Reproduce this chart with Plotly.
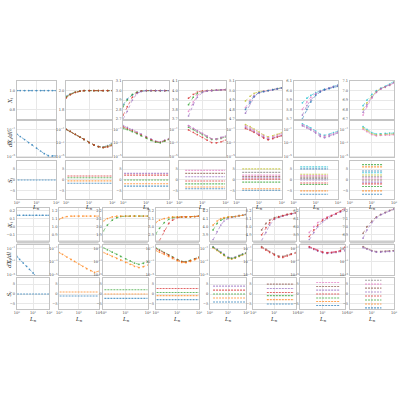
import plotly.graph_objects as go

W, H = 400, 400
COLORS = ['#1f77b4', '#ff7f0e', '#2ca02c', '#d62728', '#9467bd',
          '#8c564b', '#e377c2', '#7f7f7f', '#bcbd22', '#17becf']

# shared L grid for the X_i and dX_i/dl rows
L_GRID = [1, 1.5, 2.5, 4, 6, 10, 16, 25, 40, 63, 100]
N = None

# ---------------- top block (7 columns) ----------------
TOP_LEVEL = [1, 2, 3, 4, 5, 6, 7]

TOP_X_COLORS = [[0], [0, 1, 2, 3], [0, 2, 3, 4], [3, 2, 6, 4], [8, 6, 4, 0], [9, 6, 4, 0], [9, 8, 6, 4]]
TOP_X = [
    [[1.0, 1.0, 1.0, 1.0, 1.0, 1.0, 1.0, 1.0, 1.0, 1.0, 1.0]],
    [[1.94, 1.965, 1.985, 1.995, 2.0, 2.0, 2.0, 2.0, 2.0, 2.0, 2.0],
     [1.93, 1.96, 1.983, 1.995, 2.0, 2.0, 2.0, 2.0, 2.0, 2.0, 2.0],
     [1.93, 1.958, 1.982, 1.994, 2.0, 2.0, 2.0, 2.0, 2.0, 2.0, 2.0],
     [1.92, 1.955, 1.98, 1.994, 2.0, 2.0, 2.0, 2.0, 2.0, 2.0, 2.0]],
    [[2.85, 2.91, 2.955, 2.98, 2.993, 3.0, 3.0, 3.0, 3.0, 3.0, 3.0],
     [2.83, 2.9, 2.96, 2.985, 2.995, 3.0, 3.0, 3.0, 3.0, 3.0, 3.0],
     [2.74, 2.83, 2.93, 2.98, 2.995, 3.0, 3.0, 3.0, 3.0, 3.0, 3.0],
     [2.70, 2.78, 2.9, 2.97, 2.99, 3.0, 3.0, 3.0, 3.0, 3.0, 3.0]],
    [[N, N, 3.92, 3.96, 3.985, 3.997, 4.0, 4.002, 4.005, 4.008, 4.01],
     [N, N, 3.85, 3.93, 3.97, 3.99, 4.0, 4.002, 4.005, 4.008, 4.01],
     [N, N, 3.78, 3.88, 3.95, 3.985, 3.998, 4.002, 4.005, 4.008, 4.01],
     [N, N, 3.73, 3.85, 3.93, 3.98, 3.995, 4.0, 4.005, 4.008, 4.01]],
    [[N, N, 4.89, 4.94, 4.97, 4.99, 4.995, 5.0, 5.01, 5.02, 5.03],
     [N, N, 4.82, 4.9, 4.95, 4.98, 4.995, 5.0, 5.01, 5.02, 5.03],
     [N, N, 4.76, 4.86, 4.93, 4.975, 4.99, 5.0, 5.008, 5.017, 5.025],
     [N, N, 4.8, 4.88, 4.94, 4.98, 4.99, 5.0, 5.01, 5.02, 5.03]],
    [[N, N, 5.87, 5.92, 5.95, 5.98, 6.0, 6.015, 6.03, 6.045, 6.06],
     [N, N, 5.8, 5.88, 5.93, 5.97, 5.995, 6.012, 6.028, 6.042, 6.055],
     [N, N, 5.74, 5.84, 5.9, 5.96, 5.99, 6.01, 6.025, 6.04, 6.05],
     [N, N, 5.7, 5.8, 5.88, 5.95, 5.985, 6.008, 6.02, 6.035, 6.045]],
    [[N, N, N, 6.84, 6.9, 6.96, 7.0, 7.025, 7.045, 7.07, 7.1],
     [N, N, N, 6.8, 6.87, 6.94, 6.99, 7.02, 7.04, 7.06, 7.09],
     [N, N, N, 6.74, 6.83, 6.92, 6.98, 7.015, 7.035, 7.055, 7.08],
     [N, N, N, 6.77, 6.85, 6.93, 6.985, 7.02, 7.04, 7.06, 7.085]],
]

TOP_DX_COLORS = [[0], [0, 1, 2, 3], [4, 3, 2], [4, 2, 6, 3], [8, 6, 4, 3], [9, 6, 4], [9, 8, 6]]
TOP_DX = [
    [[2.0e-2, 8.5e-3, 3.0e-3, 1.1e-3, 4.9e-4, 1.7e-4, 6.3e-5, 2.5e-5, 1.3e-5, 1.2e-5, 1.2e-5]],
    [[1.0e-1, 5.0e-2, 1.8e-2, 7.1e-3, 3.2e-3, 1.1e-3, 5.0e-4, 2.8e-4, 2.5e-4, 4.0e-4, 8.9e-4],
     [1.0e-1, 5.0e-2, 1.8e-2, 7.1e-3, 3.2e-3, 1.1e-3, 5.0e-4, 2.8e-4, 2.2e-4, 3.2e-4, 6.3e-4],
     [1.0e-1, 5.0e-2, 1.8e-2, 7.1e-3, 3.2e-3, 1.1e-3, 5.0e-4, 2.8e-4, 2.0e-4, 2.8e-4, 5.0e-4],
     [1.0e-1, 5.0e-2, 1.8e-2, 7.1e-3, 3.2e-3, 1.1e-3, 5.0e-4, 2.8e-4, 2.0e-4, 2.5e-4, 4.0e-4]],
    [[3.5e-1, 2.0e-1, 8.9e-2, 4.0e-2, 2.0e-2, 7.9e-3, 3.5e-3, 1.8e-3, 1.4e-3, 2.5e-3, 4.5e-3],
     [2.2e-1, 1.3e-1, 6.3e-2, 2.8e-2, 1.4e-2, 6.3e-3, 2.8e-3, 1.5e-3, 1.2e-3, 2.1e-3, 3.8e-3],
     [1.4e-1, 8.9e-2, 4.5e-2, 2.2e-2, 1.1e-2, 5.0e-3, 2.2e-3, 1.3e-3, 1.0e-3, 1.8e-3, 3.2e-3]],
    [[N, N, 3.5e-1, 1.4e-1, 6.3e-2, 2.5e-2, 1.0e-2, 4.0e-3, 4.0e-3, 6.3e-3, 1.0e-2],
     [N, N, 2.0e-1, 8.9e-2, 4.0e-2, 1.6e-2, 6.3e-3, 3.2e-3, 3.2e-3, 4.5e-3, 7.1e-3],
     [N, N, 3.2e-1, 1.3e-1, 5.6e-2, 2.2e-2, 8.9e-3, 4.0e-3, 3.5e-3, 5.0e-3, 8.9e-3],
     [N, N, 7.9e-2, 3.5e-2, 1.6e-2, 6.3e-3, 2.5e-3, 1.1e-3, 1.0e-3, 1.4e-3, 2.5e-3]],
    [[N, N, 5.0e-1, 2.5e-1, 1.1e-1, 4.0e-2, 1.4e-2, 7.9e-3, 1.1e-2, 1.8e-2, 3.2e-2],
     [N, N, 3.2e-1, 1.6e-1, 7.1e-2, 2.5e-2, 1.0e-2, 5.6e-3, 7.9e-3, 1.3e-2, 2.2e-2],
     [N, N, 2.0e-1, 1.0e-1, 4.5e-2, 1.6e-2, 6.3e-3, 3.5e-3, 5.0e-3, 7.9e-3, 1.3e-2],
     [N, N, 1.3e-1, 7.1e-2, 3.5e-2, 1.3e-2, 5.0e-3, 2.8e-3, 4.0e-3, 7.1e-3, 1.1e-2]],
    [[N, N, 6.3e-1, 3.2e-1, 1.6e-1, 5.6e-2, 1.8e-2, 1.3e-2, 1.8e-2, 3.2e-2, 5.0e-2],
     [N, N, 4.5e-1, 2.2e-1, 1.1e-1, 4.0e-2, 1.3e-2, 8.9e-3, 1.3e-2, 2.2e-2, 4.0e-2],
     [N, N, 3.2e-1, 1.6e-1, 7.9e-2, 2.8e-2, 8.9e-3, 5.6e-3, 8.9e-3, 1.6e-2, 2.8e-2]],
    [[N, N, N, 2.5e-1, 1.0e-1, 3.2e-2, 2.0e-2, 2.2e-2, 2.5e-2, 2.8e-2, 2.8e-2],
     [N, N, N, 1.6e-1, 6.3e-2, 2.2e-2, 1.4e-2, 1.6e-2, 1.8e-2, 2.0e-2, 2.0e-2],
     [N, N, N, 1.0e-1, 4.5e-2, 1.6e-2, 1.1e-2, 1.3e-2, 1.4e-2, 1.4e-2, 1.6e-2]],
]

TOP_S = [
    [0.0],
    [-1.5, -0.4, 1.0, 1.8],
    [-2.8, -1.7, 0.0, 2.2, 3.0],
    [-4.0, -3.2, -1.8, -0.5, 1.5, 3.0, 4.4],
    [-4.7, -4.0, -1.0, 0.4, 1.0, 1.6, 2.2, 3.5, 5.1],
    [-6.5, -5.0, -2.1, -1.4, 0.0, 1.3, 2.0, 0.6, 2.6, 6.0, 5.1],
    [-6.5, -5.0, -3.0, -1.8, -1.0, 0.0, 0.9, 1.5, 2.3, 3.3, 4.1, 6.0, 7.0],
]
TOP_S_SPAN = [(1.1, 95), (1.15, 95), (1.1, 95), (1.8, 95), (1.8, 90), (2.0, 36), (3.6, 30)]

# ---------------- bottom block (8 columns) ----------------
BOT_LEVEL = [0, 1, 2, 3, 4, 5, 6, 7]

BOT_X_COLORS = [[0], [1], [2, 1], [2, 3, 1], [2, 4, 1], [5, 4, 3], [6, 4, 3], [5, 4]]
BOT_X = [
    [[0.14, 0.14, 0.14, 0.14, 0.14, 0.14, 0.14, 0.14, 0.14, 0.14, 0.14]],
    [[1.09, 1.11, 1.125, 1.13, 1.13, 1.13, 1.13, 1.13, 1.13, 1.13, 1.13]],
    [[1.95, 2.02, 2.08, 2.11, 2.125, 2.13, 2.13, 2.13, 2.13, 2.13, 2.13],
     [2.07, 2.1, 2.12, 2.13, 2.13, 2.13, 2.13, 2.13, 2.13, 2.13, 2.13]],
    [[2.91, 2.98, 3.05, 3.09, 3.11, 3.12, 3.12, 3.12, 3.122, 3.125, 3.13],
     [N, 2.83, 2.95, 3.04, 3.08, 3.11, 3.12, 3.12, 3.122, 3.125, 3.13],
     [3.05, 3.08, 3.1, 3.115, 3.12, 3.12, 3.12, 3.12, 3.122, 3.125, 3.13]],
    [[N, 3.96, 4.04, 4.08, 4.1, 4.115, 4.12, 4.125, 4.135, 4.14, 4.15],
     [N, 3.84, 3.94, 4.02, 4.07, 4.1, 4.115, 4.125, 4.135, 4.14, 4.15],
     [N, 4.02, 4.07, 4.1, 4.11, 4.12, 4.12, 4.125, 4.135, 4.14, 4.15]],
    [[N, N, 4.96, 5.04, 5.08, 5.11, 5.125, 5.135, 5.15, 5.16, 5.17],
     [N, N, 4.83, 4.93, 5.02, 5.09, 5.115, 5.13, 5.145, 5.155, 5.165],
     [N, N, 4.9, 4.99, 5.05, 5.1, 5.12, 5.135, 5.15, 5.16, 5.17]],
    [[N, N, 5.93, 6.0, 6.05, 6.09, 6.12, 6.14, 6.16, 6.185, 6.21],
     [N, N, 5.84, 5.93, 6.0, 6.06, 6.1, 6.13, 6.155, 6.18, 6.2],
     [N, N, 5.88, 5.96, 6.02, 6.08, 6.11, 6.135, 6.16, 6.19, 6.23]],
    [[N, N, N, 6.92, 7.0, 7.07, 7.12, 7.15, 7.175, 7.2, 7.22],
     [N, N, N, 6.86, 6.96, 7.05, 7.11, 7.145, 7.17, 7.195, 7.215]],
]

BOT_DX_COLORS = [[0], [1], [2, 1], [2, 3, 1], [4, 1, 2], [5, 3], [6, 4, 3], [5, 4]]
BOT_DX = [
    [[6.3e-3, 2.2e-3, 6.3e-4, 2.0e-4, 7.1e-5, 2.0e-5, 6.3e-6, 2.0e-6, 6.3e-7, 2.0e-7, 6.3e-8]],
    [[2.5e-2, 1.3e-2, 5.0e-3, 2.2e-3, 1.1e-3, 4.5e-4, 2.0e-4, 8.9e-5, 4.5e-5, 2.5e-5, 3.5e-5]],
    [[1.3e-1, 6.3e-2, 2.8e-2, 1.3e-2, 6.3e-3, 2.8e-3, 1.3e-3, 6.3e-4, 4.0e-4, 5.6e-4, 1.0e-3],
     [2.5e-2, 1.4e-2, 6.3e-3, 3.2e-3, 1.8e-3, 7.9e-4, 4.0e-4, 2.0e-4, 1.3e-4, 1.8e-4, 3.2e-4]],
    [[1.3e-1, 6.3e-2, 2.5e-2, 1.1e-2, 5.0e-3, 2.0e-3, 1.1e-3, 1.0e-3, 1.6e-3, 2.8e-3, 5.0e-3],
     [1.0e-1, 5.0e-2, 2.0e-2, 8.9e-3, 4.0e-3, 1.8e-3, 1.0e-3, 8.9e-4, 1.4e-3, 2.5e-3, 4.5e-3],
     [5.0e-2, 2.8e-2, 1.3e-2, 6.3e-3, 3.2e-3, 1.4e-3, 7.9e-4, 7.1e-4, 1.1e-3, 2.0e-3, 3.5e-3]],
    [[N, 2.0e-1, 7.9e-2, 3.2e-2, 1.4e-2, 5.0e-3, 3.5e-3, 5.0e-3, 8.9e-3, 1.6e-2, 2.5e-2],
     [N, 1.3e-1, 5.0e-2, 2.0e-2, 8.9e-3, 3.2e-3, 2.5e-3, 3.5e-3, 6.3e-3, 1.1e-2, 1.8e-2],
     [N, 1.6e-1, 6.3e-2, 2.5e-2, 1.1e-2, 4.0e-3, 3.2e-3, 4.2e-3, 7.6e-3, 1.3e-2, 2.1e-2]],
    [[N, N, 2.0e-1, 7.9e-2, 3.5e-2, 1.4e-2, 7.1e-3, 6.3e-3, 1.0e-2, 1.6e-2, 2.5e-2],
     [N, N, 1.4e-1, 5.6e-2, 2.5e-2, 1.0e-2, 5.0e-3, 4.5e-3, 7.1e-3, 1.3e-2, 2.0e-2]],
    [[N, N, 2.0e-1, 1.0e-1, 5.6e-2, 3.2e-2, 2.5e-2, 2.8e-2, 3.5e-2, 5.0e-2, 6.3e-2],
     [N, N, 1.4e-1, 7.1e-2, 4.0e-2, 2.2e-2, 1.8e-2, 2.0e-2, 2.5e-2, 3.5e-2, 4.5e-2],
     [N, N, 1.8e-1, 8.9e-2, 5.0e-2, 2.8e-2, 2.2e-2, 2.5e-2, 3.2e-2, 4.5e-2, 1.6e-1]],
    [[N, N, N, 2.0e-1, 1.0e-1, 5.0e-2, 3.5e-2, 3.5e-2, 4.0e-2, 4.5e-2, 5.0e-2],
     [N, N, N, 1.4e-1, 7.9e-2, 4.0e-2, 2.8e-2, 2.8e-2, 3.2e-2, 3.5e-2, 4.0e-2]],
]

BOT_S = [
    [0.0],
    [-1.0, 1.0],
    [-2.2, 0.0, 2.2],
    [-2.8, -0.8, 0.8, 2.8],
    [-4.0, -2.0, 0.0, 2.0, 4.0],
    [-5.0, -2.8, -0.8, 0.8, 2.8, 5.0],
    [-5.8, -3.8, -2.0, 0.0, 2.0, 3.8, 5.8],
    [-7.0, -5.0, -3.0, -1.0, 1.0, 3.0, 5.0, 7.0],
]
BOT_S_SPAN = [(1.05, 98), (1.05, 98), (1.1, 98), (1.1, 98), (1.5, 95), (4.4, 85), (5.1, 60), (4.9, 27)]

# ---------------- panel geometry (screen pixels) ----------------
TOP_COLS = [(14, 54), (64, 111), (122, 169), (179, 226), (237, 283), (295, 340), (352, 397)]
TOP_ROWS = [(80, 118), (120, 157), (161, 199)]
BOT_COLS = [(14, 47), (57, 97), (102, 147), (155, 199), (210, 247), (254, 297), (302, 347), (352, 397)]
BOT_ROWS = [(208, 241), (245, 276), (279, 310)]

FONT = 'DejaVu Serif'
GRID = '#e8e8e8'
SPINE = '#c4c4c4'
TICKC = '#444444'
TICK_SIZE = 3.6
TITLE_SIZE = 5.5

fig = go.Figure()
count = [0]


def px(p):
    return p / W


def py(p):
    return 1 - p / H


def sup(e):
    return '10<sup>' + str(e).replace('-', '\u2212') + '</sup>'


def make_axes(cx, ry, yaxis_opts, xlabels):
    count[0] += 1
    k = count[0]
    s = '' if k == 1 else str(k)
    fig.layout['xaxis' + s] = dict(
        domain=[px(cx[0]), px(cx[1])], anchor='y' + s, type='log', range=[0, 2],
        tickvals=[1, 10, 100], ticktext=[sup(0), sup(1), sup(2)],
        showticklabels=xlabels, ticks='', showgrid=True, gridcolor=GRID, gridwidth=0.6,
        showline=True, linecolor=SPINE, linewidth=0.8, mirror=True, zeroline=False,
        tickfont=dict(size=TICK_SIZE, family=FONT, color=TICKC))
    ya = dict(domain=[py(ry[1]), py(ry[0])], anchor='x' + s, ticks='',
              showgrid=True, gridcolor=GRID, gridwidth=0.6, showline=True, linecolor=SPINE,
              linewidth=0.8, mirror=True, zeroline=False,
              tickfont=dict(size=TICK_SIZE, family=FONT, color=TICKC))
    ya.update(yaxis_opts)
    fig.layout['yaxis' + s] = ya
    return 'x' + s, 'y' + s


def curve(xa, ya, vals, c):
    fig.add_trace(go.Scatter(
        x=L_GRID, y=vals, mode='lines+markers', xaxis=xa, yaxis=ya,
        line=dict(color=COLORS[c % 10], width=0.7, dash='dot'),
        marker=dict(size=1.7, color=COLORS[c % 10]), opacity=0.8,
        showlegend=False, hoverinfo='skip', connectgaps=False))


def sline(xa, ya, span, val, c):
    fig.add_trace(go.Scatter(
        x=list(span), y=[val, val], mode='lines', xaxis=xa, yaxis=ya,
        line=dict(color=COLORS[c % 10], width=1.1, dash='2px,1px'), opacity=0.7,
        showlegend=False, hoverinfo='skip'))


dx_axis = dict(type='log', range=[-5.15, 0.25], tickvals=[1e-5, 1e-3, 1e-1],
               ticktext=[sup(-5), sup(-3), sup(-1)])
s_ticks = dict(tickvals=[-5, 0, 5], ticktext=['\u22125', '0', '5'])

# top block
for j, cx in enumerate(TOP_COLS):
    n = TOP_LEVEL[j]
    if n <= 2:
        tv = [n - 0.2, n]
    else:
        tv = [n - 0.3, n - 0.2, n - 0.1, n, n + 0.1]
    xa, ya = make_axes(cx, TOP_ROWS[0], dict(range=[n - 0.3, n + 0.1], tickvals=tv,
                                             ticktext=['%.1f' % v for v in tv]), False)
    for vals, c in zip(TOP_X[j], TOP_X_COLORS[j]):
        curve(xa, ya, vals, c)
    xa, ya = make_axes(cx, TOP_ROWS[1], dx_axis, False)
    for vals, c in zip(TOP_DX[j], TOP_DX_COLORS[j]):
        curve(xa, ya, vals, c)
    xa, ya = make_axes(cx, TOP_ROWS[2], dict(range=[-8.7, 8.5], **s_ticks), True)
    for i, v in enumerate(TOP_S[j]):
        sline(xa, ya, TOP_S_SPAN[j], v, i)

# bottom block
bdx_axis = dict(dx_axis, range=[-5.05, -0.4])
for j, cx in enumerate(BOT_COLS):
    m = BOT_LEVEL[j]
    tv = [m - 0.1, m, m + 0.1, m + 0.2]
    xa, ya = make_axes(cx, BOT_ROWS[0], dict(range=[m - 0.17, m + 0.23], tickvals=tv,
                                             ticktext=[('%.1f' % v).replace('-', '\u2212') for v in tv]), False)
    for vals, c in zip(BOT_X[j], BOT_X_COLORS[j]):
        curve(xa, ya, vals, c)
    xa, ya = make_axes(cx, BOT_ROWS[1], bdx_axis, False)
    for vals, c in zip(BOT_DX[j], BOT_DX_COLORS[j]):
        curve(xa, ya, vals, c)
    xa, ya = make_axes(cx, BOT_ROWS[2], dict(range=[-7.5, 8.0], **s_ticks), True)
    for i, v in enumerate(BOT_S[j]):
        sline(xa, ya, BOT_S_SPAN[j], v, i)
    # thick grey band between the first two rows
    fig.add_shape(type='rect', xref='paper', yref='paper',
                  x0=px(cx[0]), x1=px(cx[1]), y0=py(244), y1=py(241),
                  fillcolor='#cccccc', line=dict(width=0))

# axis titles
notes = []
for rows in (TOP_ROWS, BOT_ROWS):
    for r, t in zip(rows, ['<i>X<sub>i</sub></i>', '<i>dX<sub>i</sub>/dl</i>', '<i>S<sub>i</sub></i>']):
        notes.append(dict(x=px(7), y=py((r[0] + r[1]) / 2), xref='paper', yref='paper',
                          xanchor='center', yanchor='middle', text=t, textangle=-90,
                          showarrow=False, font=dict(size=TITLE_SIZE, family=FONT, color='#222')))
for cols, yy in ((TOP_COLS, 202), (BOT_COLS, 315)):
    for cx in cols:
        notes.append(dict(x=px((cx[0] + cx[1]) / 2), y=py(yy), xref='paper', yref='paper',
                          xanchor='center', yanchor='top', text='<i>L<sub>n</sub></i>',
                          showarrow=False, font=dict(size=TITLE_SIZE, family=FONT, color='#222')))

fig.update_layout(width=W, height=H, margin=dict(l=0, r=0, t=0, b=0),
                  plot_bgcolor='white', paper_bgcolor='white', annotations=notes)

fig.write_html("out.html", config={'displayModeBar': False},
               post_script="document.body.style.margin='0';")
